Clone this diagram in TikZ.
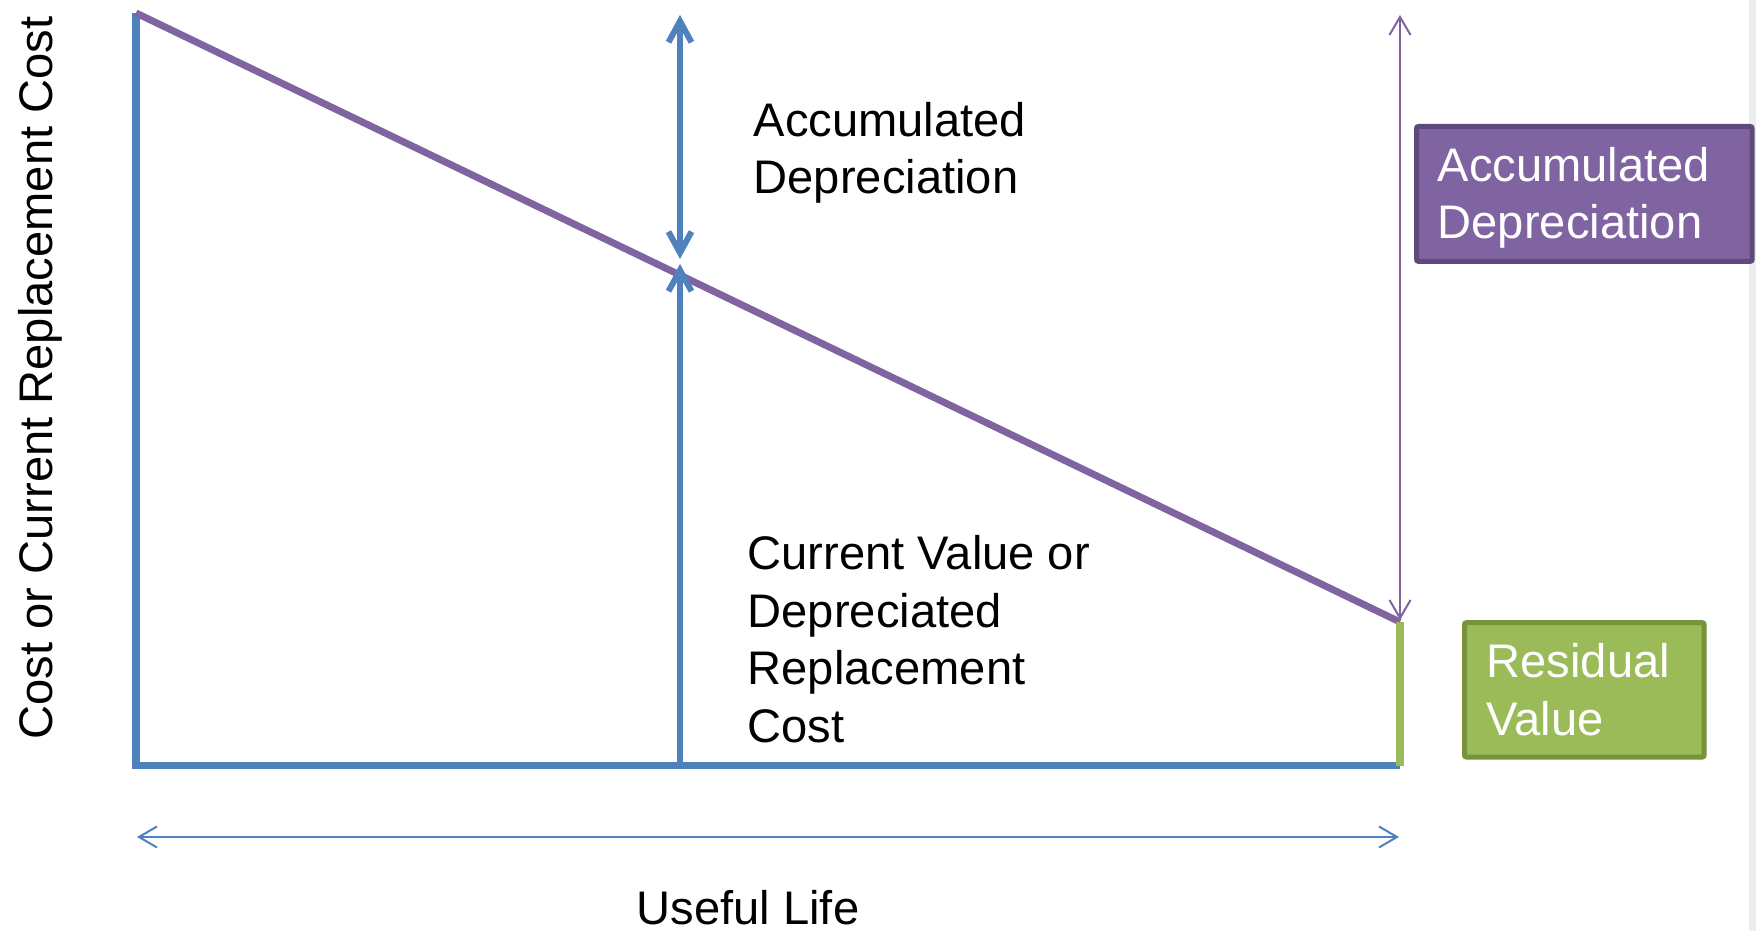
\documentclass[tikz,border=0pt]{standalone}
\usepackage{fontspec}
\setmainfont{Liberation Sans}
\usetikzlibrary{arrows.meta}
\definecolor{ablue}{HTML}{4F81BD}
\definecolor{apurple}{HTML}{8064A2}
\definecolor{apurpled}{HTML}{5F4A7C}
\definecolor{agreen}{HTML}{9BBB59}
\definecolor{agreend}{HTML}{77933C}
\begin{document}
\begin{tikzpicture}[x=0.01cm,y=-0.01cm,
  lbl/.style={anchor=base west, inner sep=0pt, font=\fontsize{13.4}{16}\selectfont},
  wlbl/.style={lbl, text=white},
  thickline/.style={line width=0.07cm},
  thinarrow/.style={line width=0.02cm, {Straight Barb[length=0.18cm,width=0.21cm]}-{Straight Barb[length=0.18cm,width=0.21cm]}},
  thickbarb/.style={line width=0.06cm},
  barb/.tip={Straight Barb[length=0.21cm,width=0.23cm]},
  box/.style={anchor=north west, inner sep=0pt, outer sep=0pt, line width=0.05cm, rounded corners=0.02cm}]
\useasboundingbox (0,0) rectangle (1756,931);
\fill[white] (0,0) rectangle (1756,931);
\fill[black!7] (1749,0) rectangle (1756,931);

% key points
\coordinate (T) at (136,13);
\coordinate (O) at (136,766);
\coordinate (E) at (1400,766);
\coordinate (R) at (1400,622);
\coordinate (Mtop) at (680,15);
\coordinate (Mdown) at (680,259);
\coordinate (Mup) at (680,264);
\coordinate (Mbot) at (680,766);
\coordinate (Atop) at (1400,15);
\coordinate (Abot) at (1400,620);
\coordinate (Lleft) at (137,837);
\coordinate (Lright) at (1399,837);

% axes and depreciation line
\draw[ablue, thickline, line join=miter] (T) -- (O) -- (E);
\draw[apurple, thickline] (T) -- (R);
\draw[agreen, line width=0.08cm] (R) -- (E);

% middle arrows
\draw[ablue, thickbarb, barb-barb] (Mtop) -- (Mdown);
\draw[ablue, thickbarb, -barb] (Mbot) -- (Mup);

% thin arrows
\draw[apurple, thinarrow] (Atop) -- (Abot);
\draw[ablue, thinarrow] (Lleft) -- (Lright);

% boxes
\node[box, draw=apurpled, fill=apurple, minimum width=3.355cm, minimum height=1.348cm] (adbox) at (1416.5,126.5) {};
\node[box, draw=agreend, fill=agreen, minimum width=2.395cm, minimum height=1.343cm] (rvbox) at (1464.5,622.7) {};

% texts
\node[wlbl] (ad1) at (1437,182) {Accumulated};
\node[wlbl] (ad2) at (1437,239) {Depreciation};
\node[wlbl] (rv1) at (1486,678) {Residual};
\node[wlbl] (rv2) at (1486,736) {Value};

\node[lbl] (md1) at (753,137) {Accumulated};
\node[lbl] (md2) at (753,194) {Depreciation};

\node[lbl] (cv1) at (747,570) {Current Value or};
\node[lbl] (cv2) at (747,628) {Depreciated};
\node[lbl] (cv3) at (747,685) {Replacement};
\node[lbl] (cv4) at (747,743) {Cost};

\node[lbl] (ul) at (636,925) {Useful Life};

\node[lbl, anchor=base, rotate=90] (yl) at (53,378) {Cost or Current Replacement Cost};
\end{tikzpicture}
\end{document}
